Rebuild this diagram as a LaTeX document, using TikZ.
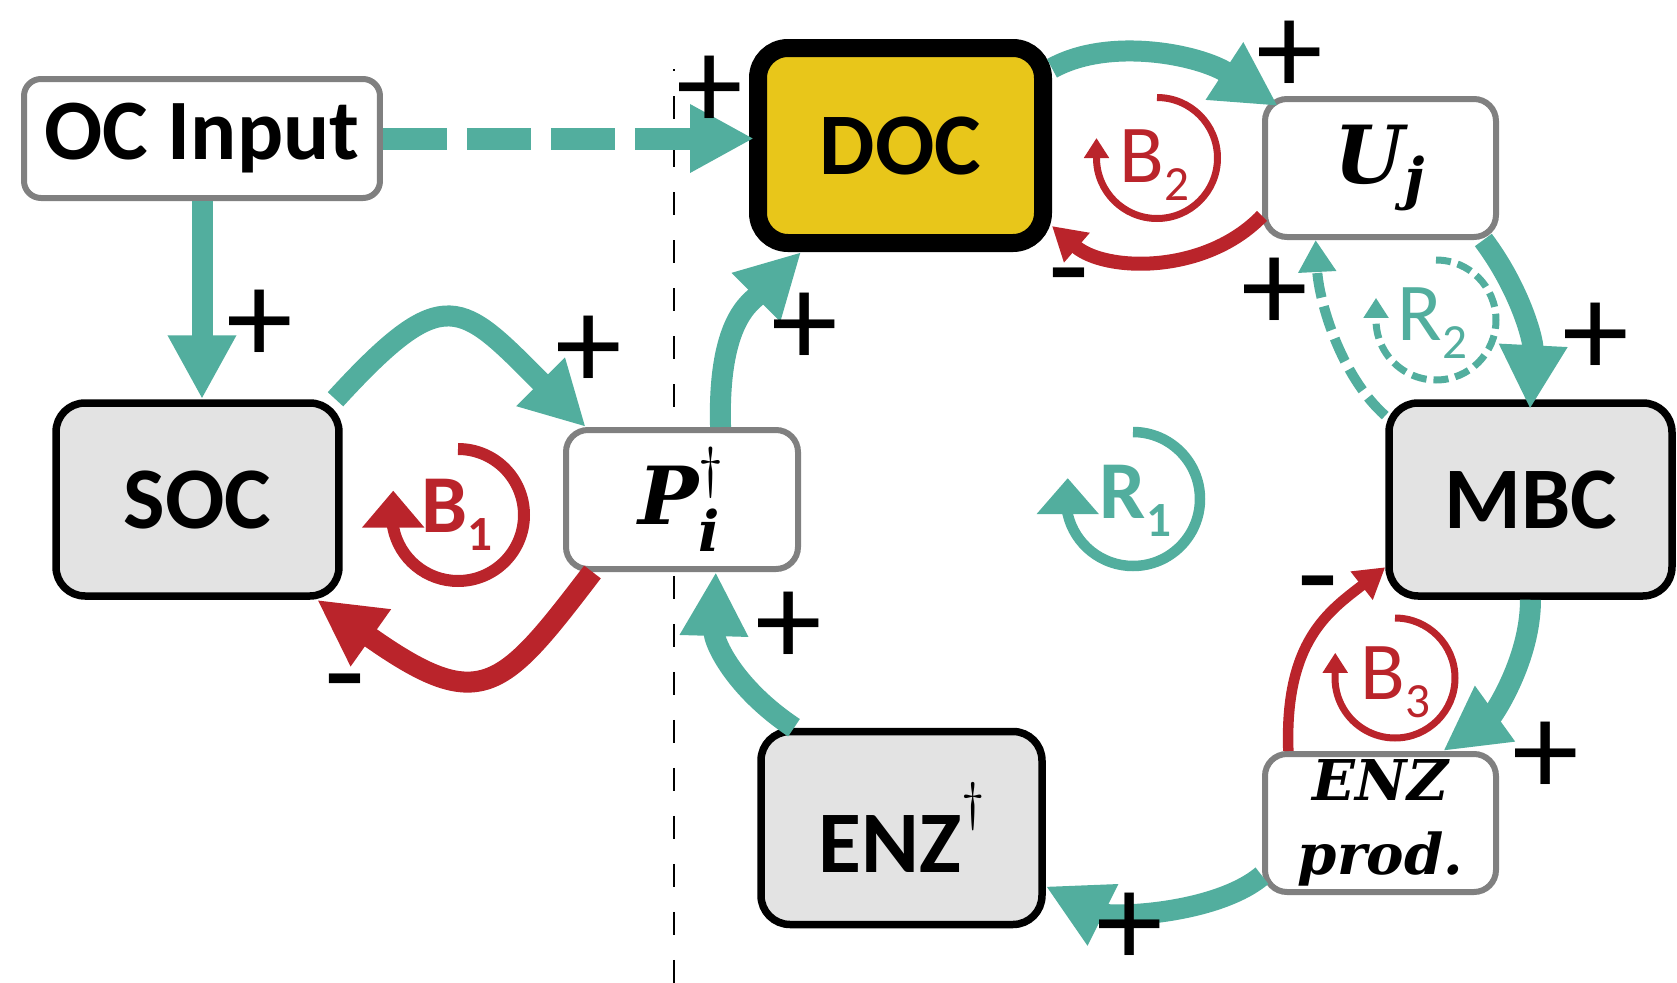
\RequirePackage{fix-cm}
\documentclass[tikz,border=0pt]{standalone}
\usepackage{fontspec}
\setmainfont{Carlito}
\newfontfamily\symfont{DejaVu Serif}
\usepackage{amsmath}
\usepackage{tikz}
\usetikzlibrary{arrows.meta}

\definecolor{tealc}{HTML}{52AE9E}
\definecolor{redc}{HTML}{BA242B}
\definecolor{docyellow}{HTML}{E8C61A}
\definecolor{boxgray}{HTML}{E3E3E3}
\definecolor{edgegray}{HTML}{808080}

\newcommand{\lsub}[1]{\raisebox{-5.4pt}{\fontsize{14}{14}\selectfont #1}}

\begin{document}
\begin{tikzpicture}[x=0.1mm, y=-0.1mm,
    stock/.style={shape=rectangle, rounded corners=2.9mm, draw=black, line width=0.75mm, fill=boxgray,
      minimum width=28.3mm, minimum height=19.3mm, inner sep=0pt, font=\fontsize{25}{30}\selectfont\bfseries},
    aux/.style={shape=rectangle, rounded corners=2.2mm, draw=edgegray, line width=0.6mm, fill=white,
      minimum width=23.1mm, minimum height=13.8mm, inner sep=0pt,
      font=\fontsize{22.8}{27}\selectfont\symfont\bfseries\itshape},
    pluslink/.style={draw=tealc, line width=2.1mm, -{Triangle[length=6.4mm,width=6.4mm]}},
    minuslink/.style={draw=redc, line width=1.4mm, -{Triangle[length=3.3mm,width=3.7mm]}},
    cyc/.style={line width=0.7mm, -{Triangle[length=2mm,width=2.4mm]}},
    sgn/.style={inner sep=0pt, font=\fontsize{38}{38}\selectfont},
    looplbl/.style={inner sep=0pt, anchor=base west, font=\fontsize{23.4}{28}\selectfont}]
  \useasboundingbox (0,0) rectangle (1677,983);

  % divider
  \draw[line width=0.25mm, dash pattern=on 2.3mm off 2.5mm, dash phase=2.1mm] (674,69) -- (674,983);

  % boxes
  \node[aux, minimum width=35.6mm, minimum height=11.9mm, rounded corners=1.7mm,
    font=\fontsize{24.5}{30}\selectfont\bfseries] (oc) at (202,138.5) {OC Input};
  \node[stock, fill=docyellow, line width=1.8mm, rounded corners=3mm, minimum width=28.5mm,
    minimum height=19.5mm] (doc) at (900.5,145.5) {DOC};
  \node[aux] (uj) at (1380.5,168) {$\text{U}_{\text{j}}$};
  \node[stock] (soc) at (197.5,499.5) {SOC};
  \node[aux, minimum width=23.2mm, minimum height=13.9mm] (pi) at (682,499.5) {$\text{P}_{\text{i}}^{\dagger}$};
  \node[stock] (mbc) at (1530.5,499.5) {MBC};
  \node[stock, minimum width=28.1mm] (enz) at (901.5,828)
    {ENZ\raisebox{5.3mm}{\fontsize{15}{15}\selectfont$\dagger$}};
  \node[aux, align=center, font=\fontsize{16}{21}\selectfont\symfont\bfseries\itshape] (enzp) at (1380.5,823) {ENZ\\prod.};

  % links
  \draw[pluslink, line width=2.2mm, dash pattern=on 6.4mm off 2mm, shorten >=-0.5mm] (oc.east) -- (oc.east -| doc.west);
  \draw[pluslink] (oc.south) -- (oc.south |- soc.north);
  \draw[pluslink] (soc.36) .. controls +(110,-120) and +(-125,-125) .. (pi.143);
  \draw[minuslink, line width=2.1mm, -{Triangle[length=6.6mm,width=6.5mm]}] (pi.219) .. controls +(-91,119) and +(164,116) .. (soc.-40);
  \draw[pluslink] (pi.62) .. controls +(-3,-107) and +(-50,50) .. (doc.227);
  \draw[pluslink] (doc.27) .. controls +(58,-32) and +(-78,-51) .. ([shift={(16,10)}]uj.north west);
  \draw[minuslink] (uj.202) .. controls +(-57,59) and +(53,46) .. (doc.-28);
  \draw[pluslink, shorten >=-1mm] (uj.-35) .. controls +(36,48) and +(3,-60) .. (mbc.north);
  \draw[pluslink, line width=1mm, dash pattern=on 2.5mm off 0.9mm, -{Triangle[length=3.2mm,width=3.6mm]}]
    (mbc.150) .. controls +(-45,-40) and +(3,60) .. (uj.228);
  \draw[pluslink] (mbc.south) .. controls +(0,60) and +(50,-36) .. (enzp.49);
  \draw[minuslink, line width=1.05mm, -{Triangle[length=3mm,width=3.4mm]}] (enzp.142) .. controls +(-4,-111) and +(-55,43) .. (mbc.205);
  \draw[pluslink] (enzp.204) .. controls +(-47,39) and +(64,32) .. (enz.-22);
  \draw[pluslink] (enz.137) .. controls +(-60,-40) and +(-2,70) .. (pi.-65);

  % loops
  \coordinate (b1c) at (458,515);
  \coordinate (b2c) at (1157,158);
  \coordinate (b3c) at (1395,678);
  \coordinate (r1c) at (1133,499);
  \coordinate (r2c) at (1436,320);
  \draw[cyc, draw=redc, line width=1.2mm, -{Triangle[length=3.7mm,width=6mm]}]
    (b1c) ++(90:6.6mm) arc[start angle=90, end angle=-169, radius=6.6mm] -- ++(90:3.7mm);
  \draw[cyc, draw=redc] (b2c) ++(90:6.05mm) arc[start angle=90, end angle=-180, radius=6.05mm] -- ++(90:2mm);
  \draw[cyc, draw=redc] (b3c) ++(90:6mm) arc[start angle=90, end angle=-185, radius=6mm] -- ++(90:2mm);
  \draw[cyc, draw=tealc, line width=1.05mm, -{Triangle[length=3.6mm,width=6mm]}]
    (r1c) ++(90:6.7mm) arc[start angle=90, end angle=-167, radius=6.7mm] -- ++(90:3.6mm);
  \draw[cyc, draw=tealc, dash pattern=on 1.5mm off 0.7mm] (r2c) ++(90:6mm) arc[start angle=90, end angle=-182, radius=6mm] -- ++(90:2mm);

  \node[looplbl, text=redc, font=\fontsize{23.4}{28}\selectfont\bfseries] (b1) at (421,532) {B\lsub{1}};
  \node[looplbl, text=redc] (b2) at (1119,182) {B\lsub{2}};
  \node[looplbl, text=redc] (b3) at (1360,699) {B\lsub{3}};
  \node[looplbl, text=tealc, font=\fontsize{23.4}{28}\selectfont\bfseries] (r1) at (1099,518) {R\lsub{1}};
  \node[looplbl, text=tealc] (r2) at (1397,340) {R\lsub{2}};

  % polarities
  \node[sgn] (s1) at (710,93) {+};
  \node[sgn] (s2) at (260,327) {+};
  \node[sgn] (s3) at (589,353) {+};
  \node[sgn] (s4) at (805,330) {+};
  \node[sgn] (s5) at (1290,58) {+};
  \node[sgn] (s6) at (1596,340) {+};
  \node[sgn] (s7) at (1275,295) {+};
  \node[sgn] (s8) at (1546,759) {+};
  \node[sgn] (s9) at (1130,930) {+};
  \node[sgn] (s10) at (789,629) {+};
  \node[sgn] (m1) at (345,695) {-};
  \node[sgn] (m2) at (1069,289) {-};
  \node[sgn] (m3) at (1318,597) {-};
\end{tikzpicture}
\end{document}
